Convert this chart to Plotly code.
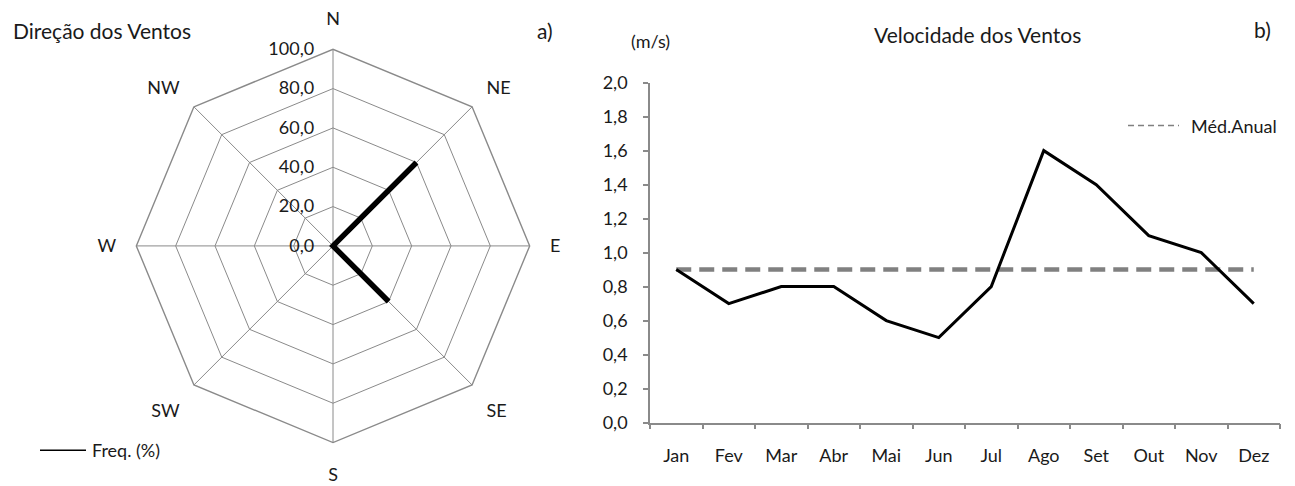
import plotly.graph_objects as go

# Radar data
directions = ["N", "NE", "E", "SE", "S", "SW", "W", "NW"]
freq = [0, 60, 0, 40, 0, 0, 0, 0]

# Line chart data
months = ["Jan", "Fev", "Mar", "Abr", "Mai", "Jun", "Jul", "Ago", "Set", "Out", "Nov", "Dez"]
speed = [0.9, 0.7, 0.8, 0.8, 0.6, 0.5, 0.8, 1.6, 1.4, 1.1, 1.0, 0.7]
annual_mean = [0.9] * 12

FONT = "Lato, 'Open Sans', sans-serif"
GRID = "#8a8a8a"
TXT = "#1a1a1a"
W, H = 1295, 486


def px_x(p):
    return p / W


def px_y(p):
    return 1 - p / H


fig = go.Figure()

# Radar series (closed)
fig.add_trace(go.Scatterpolar(
    r=freq + [freq[0]], theta=directions + [directions[0]],
    mode="lines", line=dict(color="black", width=5.5),
    name="Freq. (%)", showlegend=False, subplot="polar"))

# Line chart
fig.add_trace(go.Scatter(
    x=months, y=annual_mean, mode="lines",
    line=dict(color="#808080", width=4.5, dash="15px,8px"),
    name="Méd.Anual", showlegend=False, xaxis="x", yaxis="y"))
fig.add_trace(go.Scatter(
    x=months, y=speed, mode="lines",
    line=dict(color="black", width=3),
    showlegend=False, xaxis="x", yaxis="y"))

annotations = [
    dict(text="Direção dos Ventos", x=px_x(11), y=px_y(19), xanchor="left"),
    dict(text="a)", x=px_x(545), y=px_y(19), xanchor="center"),
    dict(text="Velocidade dos Ventos", x=px_x(977), y=px_y(24), xanchor="center"),
    dict(text="(m/s)", x=px_x(650), y=px_y(30), xanchor="center", size=18),
    dict(text="b)", x=px_x(1262), y=px_y(18), xanchor="center"),
    dict(text="Freq. (%)", x=px_x(90), y=px_y(459), xanchor="left", size=18),
    dict(text="Méd.Anual", x=px_x(1189), y=px_y(119), xanchor="left", size=18),
]
ann = []
for a in annotations:
    ann.append(dict(text=a["text"], x=a["x"], y=a["y"], xref="paper", yref="paper",
                    xanchor=a["xanchor"], yanchor="middle", showarrow=False,
                    font=dict(size=a.get("size", 21), color=TXT, family=FONT)))

shapes = [
    dict(type="line", xref="paper", yref="paper",
         x0=px_x(40), x1=px_x(86), y0=px_y(459), y1=px_y(459),
         line=dict(color="black", width=1.5)),
    dict(type="line", xref="paper", yref="paper",
         x0=px_x(1128), x1=px_x(1179), y0=px_y(119), y1=px_y(119),
         line=dict(color="#808080", width=1.5, dash="6px,4px")),
]

fig.update_layout(
    width=W, height=H,
    margin=dict(l=0, r=0, t=0, b=0),
    paper_bgcolor="white", plot_bgcolor="white",
    separators=",.",
    showlegend=False,
    font=dict(family=FONT, size=18, color=TXT),
    polar=dict(
        domain=dict(x=[px_x(127), px_x(539)], y=[px_y(451), px_y(39)]),
        bgcolor="white",
        gridshape="linear",
        radialaxis=dict(
            range=[0, 100], dtick=20, tickformat=".1f",
            angle=90, tickangle=90, side="counterclockwise",
            showline=False, ticks="outside", ticklen=12,
            tickcolor="rgba(0,0,0,0)",
            gridcolor=GRID, gridwidth=1.4,
            tickfont=dict(size=18, color=TXT)),
        angularaxis=dict(
            direction="clockwise", rotation=90,
            showline=True, linecolor=GRID, linewidth=1.4,
            gridcolor=GRID, gridwidth=1.4,
            ticks="outside", ticklen=16, tickcolor="rgba(0,0,0,0)",
            tickfont=dict(size=18, color=TXT)),
    ),
    xaxis=dict(
        domain=[px_x(650), px_x(1280)], anchor="y",
        type="category", range=[-0.5, 11.5],
        tickson="boundaries", ticks="outside", ticklen=5, tickcolor=GRID,
        tickwidth=1.5, ticklabelstandoff=16,
        showline=True, linecolor=GRID, linewidth=1.5,
        showgrid=False, zeroline=False,
        tickfont=dict(size=18, color=TXT)),
    yaxis=dict(
        domain=[px_y(430), px_y(74)], anchor="x",
        range=[0, 2.0], dtick=0.2, tickformat=".1f",
        ticks="outside", ticklen=5, tickcolor=GRID, tickwidth=1.5,
        ticklabelstandoff=12,
        showline=True, linecolor=GRID, linewidth=1.5,
        showgrid=False, zeroline=False,
        tickfont=dict(size=18, color=TXT)),
    annotations=ann,
    shapes=shapes,
)

fig.write_html("out.html")
